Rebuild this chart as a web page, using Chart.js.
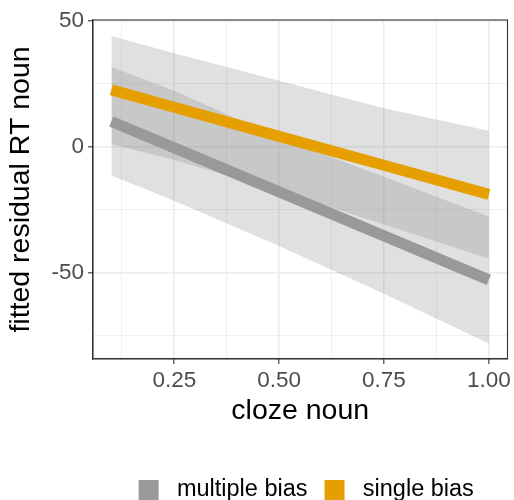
<!DOCTYPE html>
<html>
<head>
<meta charset="utf-8">
<script src="https://cdn.jsdelivr.net/npm/chart.js@4.4.0/dist/chart.umd.min.js"></script>
<style>
html, body { margin: 0; padding: 0; background: #fff; }
</style>
</head>
<body>
<canvas id="chart" width="514" height="500"></canvas>
<script>
const cloze = [0.1, 0.25, 0.5, 0.75, 1.0];

// single bias: fitted line and confidence band
const singleFit = [22.6, 15.7, 4.1, -7.4, -19.0];
const singleUpper = [44.0, 37.2, 26.2, 15.3, 6.3];
const singleLower = [1.1, -5.3, -17.5, -31.0, -44.6];

// multiple bias: fitted line and confidence band
const multipleFit = [10.0, -0.5, -18.0, -35.5, -53.0];
const multipleUpper = [31.7, 22.2, 3.5, -12.0, -27.8];
const multipleLower = [-11.5, -21.5, -39.5, -58.5, -78.3];

// axis ticks (major ones get labels, minor ones only a grid line)
const xMajor = [0.25, 0.5, 0.75, 1.0];
const xMinor = [0.125, 0.375, 0.625, 0.875];
const yMajor = [-50, 0, 50];
const yMinor = [-75, -25, 25];

const RIBBON = 'rgba(119, 119, 119, 0.23)';
const GREY = '#999999';
const ORANGE = '#E69F00';
const FONT = "'Liberation Sans', Arial, sans-serif";

function pts(ys) {
    return cloze.map((x, i) => ({ x: x, y: ys[i] }));
}

// ggplot style full panel border
const panelBorder = {
    id: 'panelBorder',
    afterDatasetsDraw(chart) {
        const a = chart.chartArea;
        const ctx = chart.ctx;
        ctx.save();
        ctx.strokeStyle = '#333333';
        ctx.lineWidth = 1.1;
        ctx.strokeRect(a.left, a.top, a.right - a.left, a.bottom - a.top);
        ctx.restore();
    }
};

// nudge the legend a little to the right, like the ggplot guide box
const legendNudge = {
    id: 'legendNudge',
    afterLayout(chart) {
        if (chart.legend) {
            chart.legend.left += 6;
            chart.legend.right += 6;
        }
    }
};

function gridOpts(major) {
    return {
        color: '#ebebeb',
        lineWidth: ctx => (ctx.tick && major.includes(ctx.tick.value)) ? 1.6 : 0.8,
        tickColor: ctx => (ctx.tick && major.includes(ctx.tick.value)) ? '#333333' : 'rgba(0,0,0,0)',
        tickWidth: 1.1,
        tickLength: 5
    };
}

const data = {
    datasets: [
        { label: 'single upper', ribbon: true, data: pts(singleUpper), fill: '+1', backgroundColor: RIBBON, borderWidth: 0, pointRadius: 0, order: 5 },
        { label: 'single lower', ribbon: true, data: pts(singleLower), fill: false, borderWidth: 0, pointRadius: 0, order: 6 },
        { label: 'multiple upper', ribbon: true, data: pts(multipleUpper), fill: '+1', backgroundColor: RIBBON, borderWidth: 0, pointRadius: 0, order: 3 },
        { label: 'multiple lower', ribbon: true, data: pts(multipleLower), fill: false, borderWidth: 0, pointRadius: 0, order: 4 },
        { label: 'multiple bias', data: pts(multipleFit), borderColor: GREY, backgroundColor: GREY, borderWidth: 11, borderCapStyle: 'butt', pointRadius: 0, fill: false, order: 2 },
        { label: 'single bias', data: pts(singleFit), borderColor: ORANGE, backgroundColor: ORANGE, borderWidth: 11, borderCapStyle: 'butt', pointRadius: 0, fill: false, order: 1 }
    ]
};

const config = {
    type: 'line',
    data: data,
    options: {
        responsive: false,
        animation: false,
        devicePixelRatio: 1,
        layout: {
            padding: { left: 0, right: 6, top: 20, bottom: -11.75 }
        },
        plugins: {
            tooltip: { enabled: false },
            legend: {
                position: 'bottom',
                fullSize: false,
                onClick: null,
                labels: {
                    boxWidth: 20,
                    boxHeight: 20,
                    padding: 17,
                    color: '#000000',
                    font: { family: FONT, size: 23.5 },
                    generateLabels(chart) {
                        return Chart.defaults.plugins.legend.labels.generateLabels(chart)
                            .filter(l => !chart.data.datasets[l.datasetIndex].ribbon)
                            .sort((a, b) => a.datasetIndex - b.datasetIndex)
                            .map(l => Object.assign(l, { lineWidth: 0, strokeStyle: 'rgba(0,0,0,0)', text: ' ' + l.text }));
                    }
                }
            }
        },
        scales: {
            x: {
                type: 'linear',
                min: 0.0562,
                max: 1.0445,
                afterBuildTicks: s => { s.ticks = xMinor.concat(xMajor).sort((a, b) => a - b).map(v => ({ value: v })); },
                afterFit: s => { s.height = 102.25; },
                ticks: {
                    autoSkip: false,
                    maxRotation: 0,
                    padding: 3,
                    color: '#4d4d4d',
                    font: { family: FONT, size: 22.5 },
                    callback: v => xMajor.includes(v) ? v.toFixed(2) : ''
                },
                grid: gridOpts(xMajor),
                border: { color: '#333333', width: 1.1 },
                title: {
                    display: true,
                    text: 'cloze noun',
                    color: '#000000',
                    font: { family: FONT, size: 28.5 },
                    padding: { top: 0, bottom: 33 }
                }
            },
            y: {
                type: 'linear',
                min: -84.5,
                max: 50.4,
                afterBuildTicks: s => { s.ticks = yMinor.concat(yMajor).sort((a, b) => a - b).map(v => ({ value: v })); },
                afterFit: s => { s.width = 93; },
                ticks: {
                    autoSkip: false,
                    padding: 4,
                    color: '#4d4d4d',
                    font: { family: FONT, size: 22.5 },
                    callback: v => yMajor.includes(v) ? String(v) : ''
                },
                grid: gridOpts(yMajor),
                border: { color: '#333333', width: 1.1 },
                title: {
                    display: true,
                    text: 'fitted residual RT noun',
                    color: '#000000',
                    font: { family: FONT, size: 28.5 },
                    padding: { top: 4, bottom: 0 }
                }
            }
        }
    },
    plugins: [panelBorder, legendNudge]
};

const myChart = new Chart(document.getElementById('chart'), config);
</script>
</body>
</html>
